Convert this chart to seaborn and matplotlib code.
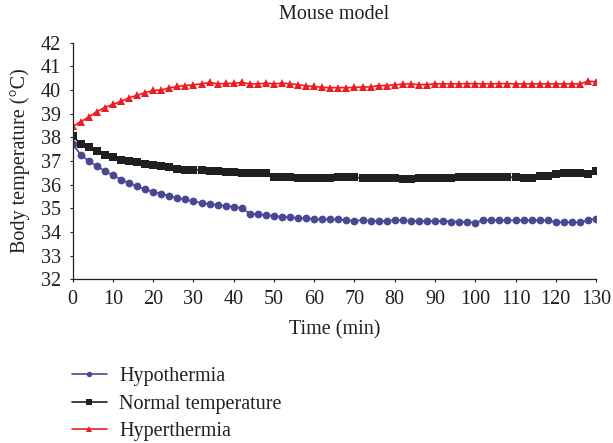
import numpy as np
import pandas as pd
import matplotlib
matplotlib.use("Agg")
import matplotlib.pyplot as plt
import seaborn as sns

time_min = list(range(0, 131, 2))

hypothermia = [
    37.70, 37.27, 36.99, 36.79, 36.57, 36.40, 36.21, 36.07, 35.93, 35.80,
    35.70, 35.62, 35.52, 35.43, 35.38, 35.29, 35.23, 35.18, 35.14, 35.09,
    35.07, 35.01, 34.77, 34.74, 34.71, 34.68, 34.64, 34.63, 34.58, 34.58,
    34.54, 34.53, 34.53, 34.53,
    34.50, 34.47, 34.50, 34.47, 34.47, 34.47, 34.50, 34.49, 34.47, 34.47,
    34.47, 34.47, 34.47, 34.44, 34.44, 34.41, 34.40, 34.49, 34.50, 34.49,
    34.49, 34.49, 34.49, 34.49, 34.49, 34.49, 34.41, 34.42, 34.41, 34.41,
    34.50, 34.57,
]

normal = [
    38.04, 37.73, 37.58, 37.44, 37.27, 37.16, 37.05, 36.99, 36.95, 36.88,
    36.84, 36.79, 36.74, 36.65, 36.62, 36.63, 36.62, 36.59, 36.58, 36.55,
    36.54, 36.51, 36.50, 36.50, 36.49, 36.31, 36.33, 36.31, 36.30, 36.30,
    36.30, 36.30, 36.30, 36.31,
    36.31, 36.31, 36.28, 36.28, 36.27, 36.27, 36.27, 36.26, 36.26, 36.27,
    36.27, 36.27, 36.28, 36.30, 36.32, 36.31, 36.33, 36.32, 36.31, 36.31,
    36.31, 36.31, 36.30, 36.30, 36.37, 36.37, 36.45, 36.48, 36.48, 36.51,
    36.43, 36.56,
]

hyperthermia = [
    38.46, 38.66, 38.86, 39.09, 39.26, 39.40, 39.52, 39.67, 39.78, 39.89,
    39.98, 40.00, 40.09, 40.15, 40.19, 40.22, 40.26, 40.32, 40.26, 40.28,
    40.28, 40.32, 40.26, 40.26, 40.29, 40.26, 40.29, 40.26, 40.23, 40.17,
    40.15, 40.11, 40.10, 40.10,
    40.10, 40.11, 40.13, 40.13, 40.19, 40.19, 40.22, 40.25, 40.26, 40.23,
    40.23, 40.26, 40.26, 40.26, 40.26, 40.27, 40.27, 40.26, 40.26, 40.27,
    40.27, 40.26, 40.26, 40.26, 40.26, 40.26, 40.26, 40.26, 40.26, 40.26,
    40.37, 40.35,
]

labels = ["Hypothermia", "Normal temperature", "Hyperthermia"]
colors = ["#4A4893", "#231F20", "#ED1C24"]
markers = ["o", "s", "^"]
x_ticks = list(range(0, 131, 10))
y_ticks = list(range(32, 43, 1))

sns.set_style("ticks")
plt.rcParams["font.family"] = ["Liberation Serif", "DejaVu Serif"]

FS = 14.5
fig = plt.figure(figsize=(6.13, 4.43), dpi=100)
ax = fig.add_axes([0.1186, 0.3695, 0.9723 - 0.1186, 0.9036 - 0.3695])

series = [hypothermia, normal, hyperthermia]
for lab, vals, col, mk in zip(labels, series, colors, markers):
    df = pd.DataFrame({"Time": time_min, "Temp": vals})
    ms = {"o": 5.6, "s": 5.4, "^": 6.3}[mk]
    sns.lineplot(data=df, x="Time", y="Temp", ax=ax, color=col, marker=mk,
                 markersize=ms, markeredgewidth=0, linewidth=1.2, label=lab)

ax.set_xlim(0, 130)
ax.set_ylim(32, 42)
ax.set_xticks(x_ticks)
ax.set_yticks(y_ticks)
ax.tick_params(axis="both", direction="out", length=2.5, width=0.8,
               labelsize=FS, colors="#231F20")
ax.tick_params(axis="y", pad=6)
ax.tick_params(axis="x", pad=5)
for s in ["top", "right"]:
    ax.spines[s].set_visible(False)
for s in ["left", "bottom"]:
    ax.spines[s].set_linewidth(0.9)
    ax.spines[s].set_color("#231F20")

ax.set_xlabel("Time (min)", fontsize=FS, labelpad=8, color="#231F20")
ax.set_ylabel("Body temperature (°C)", fontsize=FS, labelpad=8, color="#231F20")
ax.set_title("Mouse model", fontsize=FS, pad=17, color="#231F20")

handles, labs = ax.get_legend_handles_labels()
ax.get_legend().remove()
leg = fig.legend(handles, labs, loc="upper left", bbox_to_anchor=(0.117, 0.172),
                 frameon=False, fontsize=FS, handlelength=1.75, handletextpad=0.6,
                 labelspacing=0.43, markerscale=0.7, borderpad=0, borderaxespad=0)
for t in leg.get_texts():
    t.set_color("#231F20")

fig.savefig("out.png", dpi=100)
